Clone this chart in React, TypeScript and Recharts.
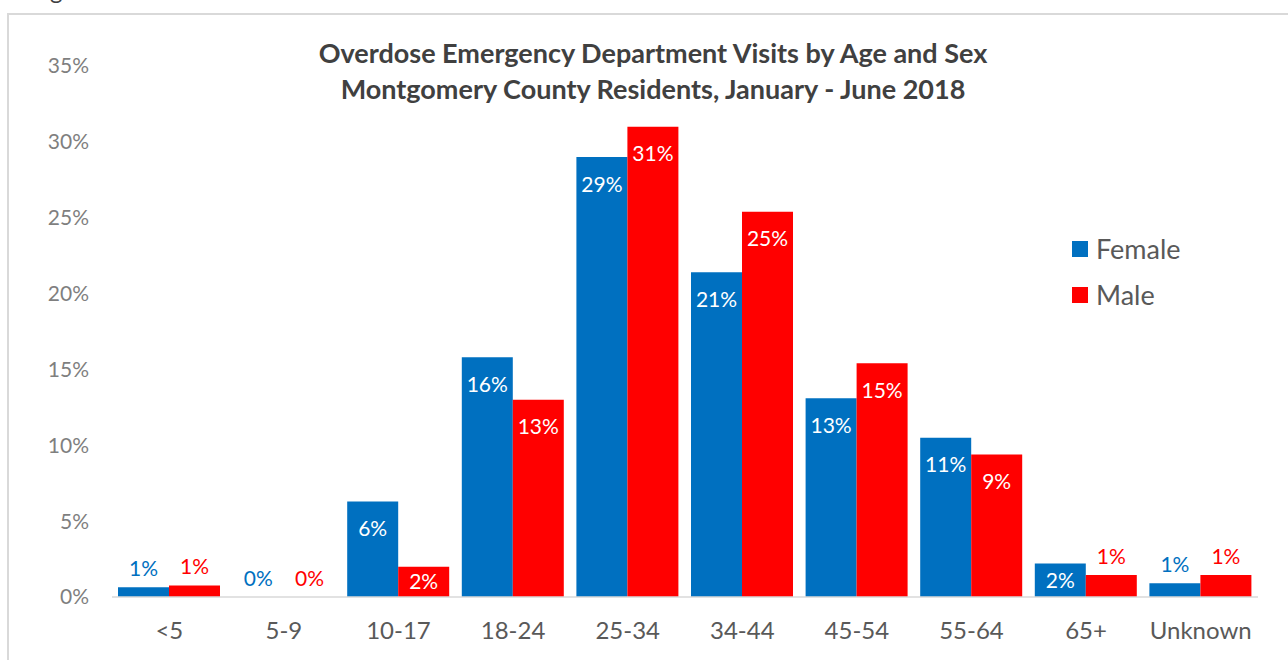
import React from 'react';
import { BarChart, Bar, XAxis, YAxis, LabelList, Customized } from 'recharts';

const categories = ['<5', '5-9', '10-17', '18-24', '25-34', '34-44', '45-54', '55-64', '65+', 'Unknown'];
const femaleValues = [0.65, 0, 6.3, 15.8, 29.0, 21.4, 13.1, 10.5, 2.2, 0.9];
const maleValues = [0.75, 0, 2.0, 13.0, 31.0, 25.4, 15.4, 9.4, 1.45, 1.45];
const yTicks = [0, 5, 10, 15, 20, 25, 30, 35];
const seriesNames = ['Female', 'Male'];
const seriesColors = ['#0070C0', '#FF0000'];
const titleLines = [
  'Overdose Emergency Department Visits by Age and Sex',
  'Montgomery County Residents, January - June 2018',
];

const FONT = 'Lato, "Open Sans", sans-serif';
const LABEL_SIZE = 21;

const data = categories.map((c, i) => ({ category: c, female: femaleValues[i], male: maleValues[i] }));

const makeLabel = (color: string) => (props: any) => {
  const { x, y, width, height, value } = props;
  const v = Number(value);
  const h = Math.abs(Number(height) || 0);
  const cx = Number(x) + Number(width) / 2;
  const txt = `${Math.round(v)}%`;
  if (v >= 1.5) {
    const cy = Number(y) + Math.min(27, h / 2);
    return (
      <text x={cx} y={cy} dy="0.36em" textAnchor="middle" fill="#ffffff" fontSize={LABEL_SIZE} fontFamily={FONT}>
        {txt}
      </text>
    );
  }
  return (
    <text x={cx} y={Number(y) - 19} dy="0.36em" textAnchor="middle" fill={color} fontSize={LABEL_SIZE} fontFamily={FONT}>
      {txt}
    </text>
  );
};

// Zero-height bars get no label from LabelList, so their "0%" labels are drawn at the tick.
const XTick = (props: any) => {
  const { x, y, payload, index } = props;
  const i = typeof index === 'number' ? index : categories.indexOf(payload.value);
  const band = 1146 / categories.length;
  const barW = (band - 12) / 2;
  const offs = [-barW / 2, barW / 2];
  const vals = [femaleValues[i], maleValues[i]];
  return (
    <g>
      <text x={x} y={y + 42} textAnchor="middle" fill="#595959" fontSize={24} fontFamily={FONT}>
        {payload.value}
      </text>
      {vals.map((v, k) =>
        v === 0 ? (
          <text key={k} x={x + offs[k]} y={y - 19} dy="0.36em" textAnchor="middle" fill={seriesColors[k]} fontSize={LABEL_SIZE} fontFamily={FONT}>
            0%
          </text>
        ) : null
      )}
    </g>
  );
};

const Overlay = () => (
  <g>
    <text x={653} y={53} dy="0.36em" textAnchor="middle" fill="#404040" fontSize={27} fontWeight="bold" fontFamily={FONT}>
      {titleLines[0]}
    </text>
    <text x={653} y={89} dy="0.36em" textAnchor="middle" fill="#404040" fontSize={27} fontWeight="bold" fontFamily={FONT}>
      {titleLines[1]}
    </text>
    {seriesNames.map((n, i) => (
      <g key={n}>
        <rect x={1072} y={241 + i * 46} width={16} height={16} fill={seriesColors[i]} />
        <text x={1096} y={249 + i * 46} dy="0.36em" fill="#595959" fontSize={27} fontFamily={FONT}>
          {n}
        </text>
      </g>
    ))}
  </g>
);

export default function App() {
  return (
    <div style={{ position: 'absolute', left: 0, top: 0, width: 1288, height: 660, overflow: 'hidden', background: '#fff' }}>
      <div style={{ position: 'absolute', left: 50, top: -22, fontSize: 24, fontFamily: FONT, color: '#404040', lineHeight: '24px' }}>g</div>
      <div style={{ position: 'absolute', left: 7, top: 13, width: 1400, height: 800, border: '2px solid #d9d9d9', boxSizing: 'border-box' }} />
      <div style={{ position: 'absolute', left: 0, top: 0 }}>
        <BarChart
          width={1288}
          height={660}
          data={data}
          margin={{ top: 66, right: 30, bottom: 23, left: 0 }}
          barCategoryGap={6}
          barGap={0}
        >
          <XAxis
            dataKey="category"
            axisLine={{ stroke: '#d9d9d9', strokeWidth: 1.5 }}
            tickLine={false}
            tickSize={0}
            tickMargin={0}
            height={40}
            tick={<XTick />}
            interval={0}
          />
          <YAxis
            domain={[0, 35]}
            ticks={yTicks}
            width={112}
            axisLine={false}
            tickLine={false}
            tickSize={6}
            tickMargin={17}
            tickFormatter={(v: number) => `${v}%`}
            tick={{ fill: '#7f7f7f', fontSize: 21, fontFamily: FONT }}
          />
          <Bar dataKey="female" name={seriesNames[0]} fill={seriesColors[0]} isAnimationActive={false}>
            <LabelList dataKey="female" content={makeLabel(seriesColors[0])} />
          </Bar>
          <Bar dataKey="male" name={seriesNames[1]} fill={seriesColors[1]} isAnimationActive={false}>
            <LabelList dataKey="male" content={makeLabel(seriesColors[1])} />
          </Bar>
          <Customized component={Overlay} />
        </BarChart>
      </div>
    </div>
  );
}
